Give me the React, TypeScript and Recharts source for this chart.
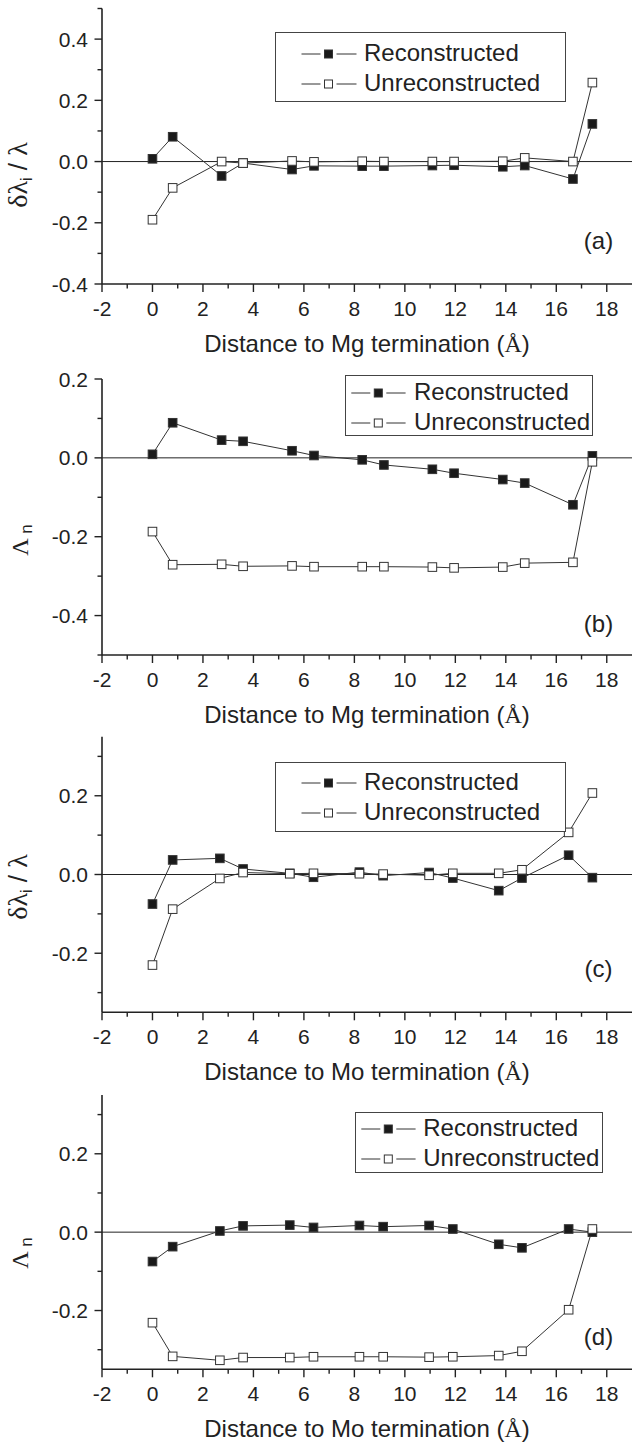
import { LineChart, Line, XAxis, YAxis, ReferenceLine, Legend, Label } from "recharts";

// distances (Å) of the layers from each termination
const mgDistance = [0, 0.8, 2.74, 3.59, 5.53, 6.4, 8.31, 9.17, 11.09, 11.95, 13.88, 14.75, 16.66, 17.43];
const moDistance = [0, 0.8, 2.67, 3.59, 5.44, 6.38, 8.2, 9.14, 10.96, 11.9, 13.72, 14.64, 16.49, 17.43];

// (a) δλi/λ, Mg termination
const aRecon = [0.009, 0.081, -0.047, -0.005, -0.026, -0.014, -0.015, -0.015, -0.013, -0.012, -0.017, -0.013, -0.057, 0.123];
const aUnrecon = [-0.19, -0.086, 0.0, -0.005, 0.002, -0.001, 0.001, 0.0, 0.0, 0.0, 0.001, 0.012, 0.0, 0.258];
// (b) Λn, Mg termination
const bRecon = [0.009, 0.089, 0.045, 0.042, 0.018, 0.006, -0.005, -0.018, -0.029, -0.039, -0.055, -0.064, -0.119, 0.005];
const bUnrecon = [-0.187, -0.271, -0.27, -0.275, -0.274, -0.276, -0.276, -0.276, -0.277, -0.279, -0.277, -0.267, -0.265, -0.01];
// (c) δλi/λ, Mo termination
const cRecon = [-0.075, 0.037, 0.041, 0.014, 0.003, -0.007, 0.006, -0.003, 0.005, -0.009, -0.041, -0.009, 0.049, -0.008];
const cUnrecon = [-0.23, -0.088, -0.01, 0.005, 0.002, 0.003, 0.002, 0.001, -0.002, 0.003, 0.003, 0.012, 0.107, 0.207];
// (d) Λn, Mo termination
const dRecon = [-0.075, -0.037, 0.003, 0.016, 0.018, 0.012, 0.017, 0.014, 0.017, 0.008, -0.031, -0.04, 0.008, 0.0];
const dUnrecon = [-0.231, -0.317, -0.327, -0.32, -0.32, -0.318, -0.318, -0.318, -0.319, -0.318, -0.315, -0.304, -0.198, 0.008];

const xTicks = [-2, -1, 0, 1, 2, 3, 4, 5, 6, 7, 8, 9, 10, 11, 12, 13, 14, 15, 16, 17, 18];
const yTicksA = [-0.4, -0.3, -0.2, -0.1, 0, 0.1, 0.2, 0.3, 0.4, 0.5];
const yTicksB = [-0.5, -0.4, -0.3, -0.2, -0.1, 0, 0.1, 0.2];
const yTicksCD = [-0.3, -0.2, -0.1, 0, 0.1, 0.2, 0.3];

const FONT = '"Liberation Sans", Arial, sans-serif';
const SERIF = '"Liberation Serif", "Times New Roman", serif';
const INK = "#222";

const XTick = (props: any) => {
  const { x, y, payload } = props;
  const major = Math.abs(payload.value) % 2 === 0;
  return (
    <g>
      <line x1={x} x2={x} y1={y} y2={y + (major ? 8 : 4.5)} stroke={INK} strokeWidth={1.4} />
      {major && (
        <text x={x} y={y + 31.5} textAnchor="middle" fontSize={21} fill={INK} fontFamily={FONT}>
          {payload.value}
        </text>
      )}
    </g>
  );
};

const YTick = (props: any) => {
  const { x, y, payload } = props;
  const major = Math.abs(Math.round(payload.value * 10)) % 2 === 0;
  return (
    <g>
      <line x1={x} x2={x - (major ? 7.5 : 4.5)} y1={y} y2={y} stroke={INK} strokeWidth={1.4} />
      {major && (
        <text x={x - 14} y={y + 7.5} textAnchor="end" fontSize={21} fill={INK} fontFamily={FONT}>
          {payload.value.toFixed(1)}
        </text>
      )}
    </g>
  );
};

const squareDot = (filled: boolean) => (props: any) => {
  const { cx, cy, index } = props;
  return (
    <rect
      key={`sq-${index}`}
      x={cx - 4.3}
      y={cy - 4.3}
      width={8.6}
      height={8.6}
      fill={filled ? "#1a1a1a" : "#fff"}
      stroke="#333"
      strokeWidth={1}
    />
  );
};

const LegendSymbol = ({ filled, x0, x1, mark }: { filled: boolean; x0: number; x1: number; mark: number }) => (
  <svg width={x1 + 2} height={14} style={{ position: "absolute", left: 0, top: -7 }}>
    <line x1={x0} x2={mark - 8} y1={7} y2={7} stroke="#333" strokeWidth={1} />
    <line x1={mark + 8} x2={x1} y1={7} y2={7} stroke="#333" strokeWidth={1} />
    <rect x={mark - 4} y={3} width={8} height={8} fill={filled ? "#1a1a1a" : "#fff"} stroke="#333" strokeWidth={1} />
  </svg>
);

type LegendBox = { left: number; top: number; width: number; height: number; rows: [number, number]; x0: number; x1: number; mark: number; text: number };

const makeLegend = (lg: LegendBox) => () => (
  <div style={{ position: "relative", width: lg.width, height: lg.height, border: "1px solid #444", boxSizing: "border-box", background: "#fff", fontFamily: FONT, fontSize: 24, color: INK }}>
    {["Reconstructed", "Unreconstructed"].map((name, i) => (
      <div key={name} style={{ position: "absolute", left: 0, top: lg.rows[i] }}>
        <LegendSymbol filled={i === 0} x0={lg.x0} x1={lg.x1} mark={lg.mark} />
        <span style={{ position: "absolute", left: lg.text, top: -15, lineHeight: "28px", whiteSpace: "nowrap" }}>{name}</span>
      </div>
    ))}
  </div>
);

type PanelProps = {
  top: number;
  height: number;
  marginTop: number;
  axisHeight: number;
  xs: number[];
  recon: number[];
  unrecon: number[];
  yDomain: [number, number];
  yTicks: number[];
  termination: string;
  yTitle: "dl" | "Ln";
  yTitleY: number;
  tag: string;
  tagY: number;
  legend: LegendBox;
};

function Panel(p: PanelProps) {
  const data = p.xs.map((x, i) => ({ x, rec: p.recon[i], unrec: p.unrecon[i] }));
  const yMid = p.yTitleY - p.top;
  return (
    <div style={{ position: "absolute", left: 0, top: p.top, width: 632, height: p.height }}>
      <LineChart width={632} height={p.height} data={data} margin={{ top: p.marginTop, right: 0, bottom: 0, left: 0 }}>
        <XAxis
          dataKey="x"
          type="number"
          domain={[-2, 19]}
          ticks={xTicks}
          interval={0}
          height={p.axisHeight}
          tickSize={0}
          tickMargin={0}
          tickLine={false}
          tick={<XTick />}
          axisLine={{ stroke: INK, strokeWidth: 1.6 }}
          allowDataOverflow
        >
          <Label
            content={(lp: any) => {
              const vb = lp.viewBox;
              return (
                <text x={vb.x + vb.width / 2} y={vb.y + 67.5} textAnchor="middle" fontSize={24} fill={INK} fontFamily={FONT}>
                  {`Distance to ${p.termination} termination (`}
                  <tspan fontFamily={SERIF}>Å</tspan>
                  {")"}
                </text>
              );
            }}
          />
          <Label
            content={() => (
              <text x={598.5} y={p.tagY - p.top + 8.5} textAnchor="middle" fontSize={24} fill={INK} fontFamily={FONT}>
                {p.tag}
              </text>
            )}
          />
        </XAxis>
        <YAxis
          type="number"
          domain={p.yDomain}
          ticks={p.yTicks}
          interval={0}
          width={102}
          tickSize={0}
          tickMargin={0}
          tickLine={false}
          tick={<YTick />}
          axisLine={{ stroke: INK, strokeWidth: 1.6 }}
          allowDataOverflow
        >
          <Label
            content={() =>
              p.yTitle === "dl" ? (
                <text x={27} y={yMid} transform={`rotate(-90 27 ${yMid})`} textAnchor="middle" fontSize={26} fill={INK} fontFamily={FONT}>
                  <tspan fontFamily={SERIF} fontSize={28}>δλ</tspan>
                  <tspan fontSize={16} dy={5}>i</tspan>
                  <tspan dy={-5}>{" / "}</tspan>
                  <tspan fontFamily={SERIF} fontSize={28}>λ</tspan>
                </text>
              ) : (
                <text x={28} y={yMid} transform={`rotate(-90 28 ${yMid})`} textAnchor="middle" fontSize={24} fill={INK} fontFamily={FONT}>
                  <tspan fontFamily={SERIF}>Λ</tspan>
                  <tspan fontSize={17} dy={4}>{" n"}</tspan>
                </text>
              )
            }
          />
        </YAxis>
        <ReferenceLine y={0} stroke={INK} strokeWidth={1} />
        <Legend
          layout="vertical"
          align="center"
          verticalAlign="middle"
          wrapperStyle={{ left: p.legend.left, top: p.legend.top - p.top, width: p.legend.width, height: p.legend.height }}
          content={makeLegend(p.legend)}
        />
        <Line type="linear" dataKey="rec" name="Reconstructed" stroke="#333" strokeWidth={1} dot={squareDot(true)} isAnimationActive={false} />
        <Line type="linear" dataKey="unrec" name="Unreconstructed" stroke="#333" strokeWidth={1} dot={squareDot(false)} isAnimationActive={false} />
      </LineChart>
    </div>
  );
}

const legendWide = { width: 291, height: 70, x0: 25.5, x1: 80.5, mark: 52.5, text: 88.5 };
const legendNarrow = { width: 248, height: 61, x0: 5.3, x1: 59.6, mark: 32.3, text: 67.6 };

export default function App() {
  return (
    <div style={{ position: "absolute", left: 0, top: 0, width: 632, height: 1444, background: "#fff", fontFamily: FONT }}>
      <Panel
        top={0}
        height={360}
        marginTop={8.5}
        axisHeight={76}
        xs={mgDistance}
        recon={aRecon}
        unrecon={aUnrecon}
        yDomain={[-0.4, 0.5]}
        yTicks={yTicksA}
        termination="Mg"
        yTitle="dl"
        yTitleY={175}
        tag="(a)"
        tagY={240}
        legend={{ left: 274.5, top: 32.3, rows: [20.4, 51], ...legendWide }}
      />
      <Panel
        top={360}
        height={370}
        marginTop={19}
        axisHeight={75}
        xs={mgDistance}
        recon={bRecon}
        unrecon={bUnrecon}
        yDomain={[-0.5, 0.2]}
        yTicks={yTicksB}
        termination="Mg"
        yTitle="Ln"
        yTitleY={540}
        tag="(b)"
        tagY={623}
        legend={{ left: 345.4, top: 375, rows: [16.7, 46.7], ...legendNarrow }}
      />
      <Panel
        top={730}
        height={360}
        marginTop={6.7}
        axisHeight={77.7}
        xs={moDistance}
        recon={cRecon}
        unrecon={cUnrecon}
        yDomain={[-0.35, 0.35]}
        yTicks={yTicksCD}
        termination="Mo"
        yTitle="dl"
        yTitleY={887}
        tag="(c)"
        tagY={968}
        legend={{ left: 274.5, top: 762.3, rows: [19.4, 49.4], ...legendWide }}
      />
      <Panel
        top={1090}
        height={354}
        marginTop={5}
        axisHeight={74.7}
        xs={moDistance}
        recon={dRecon}
        unrecon={dUnrecon}
        yDomain={[-0.35, 0.35]}
        yTicks={yTicksCD}
        termination="Mo"
        yTitle="Ln"
        yTitleY={1253}
        tag="(d)"
        tagY={1336}
        legend={{ left: 354.7, top: 1111.7, rows: [16.6, 46.6], ...legendNarrow }}
      />
    </div>
  );
}
